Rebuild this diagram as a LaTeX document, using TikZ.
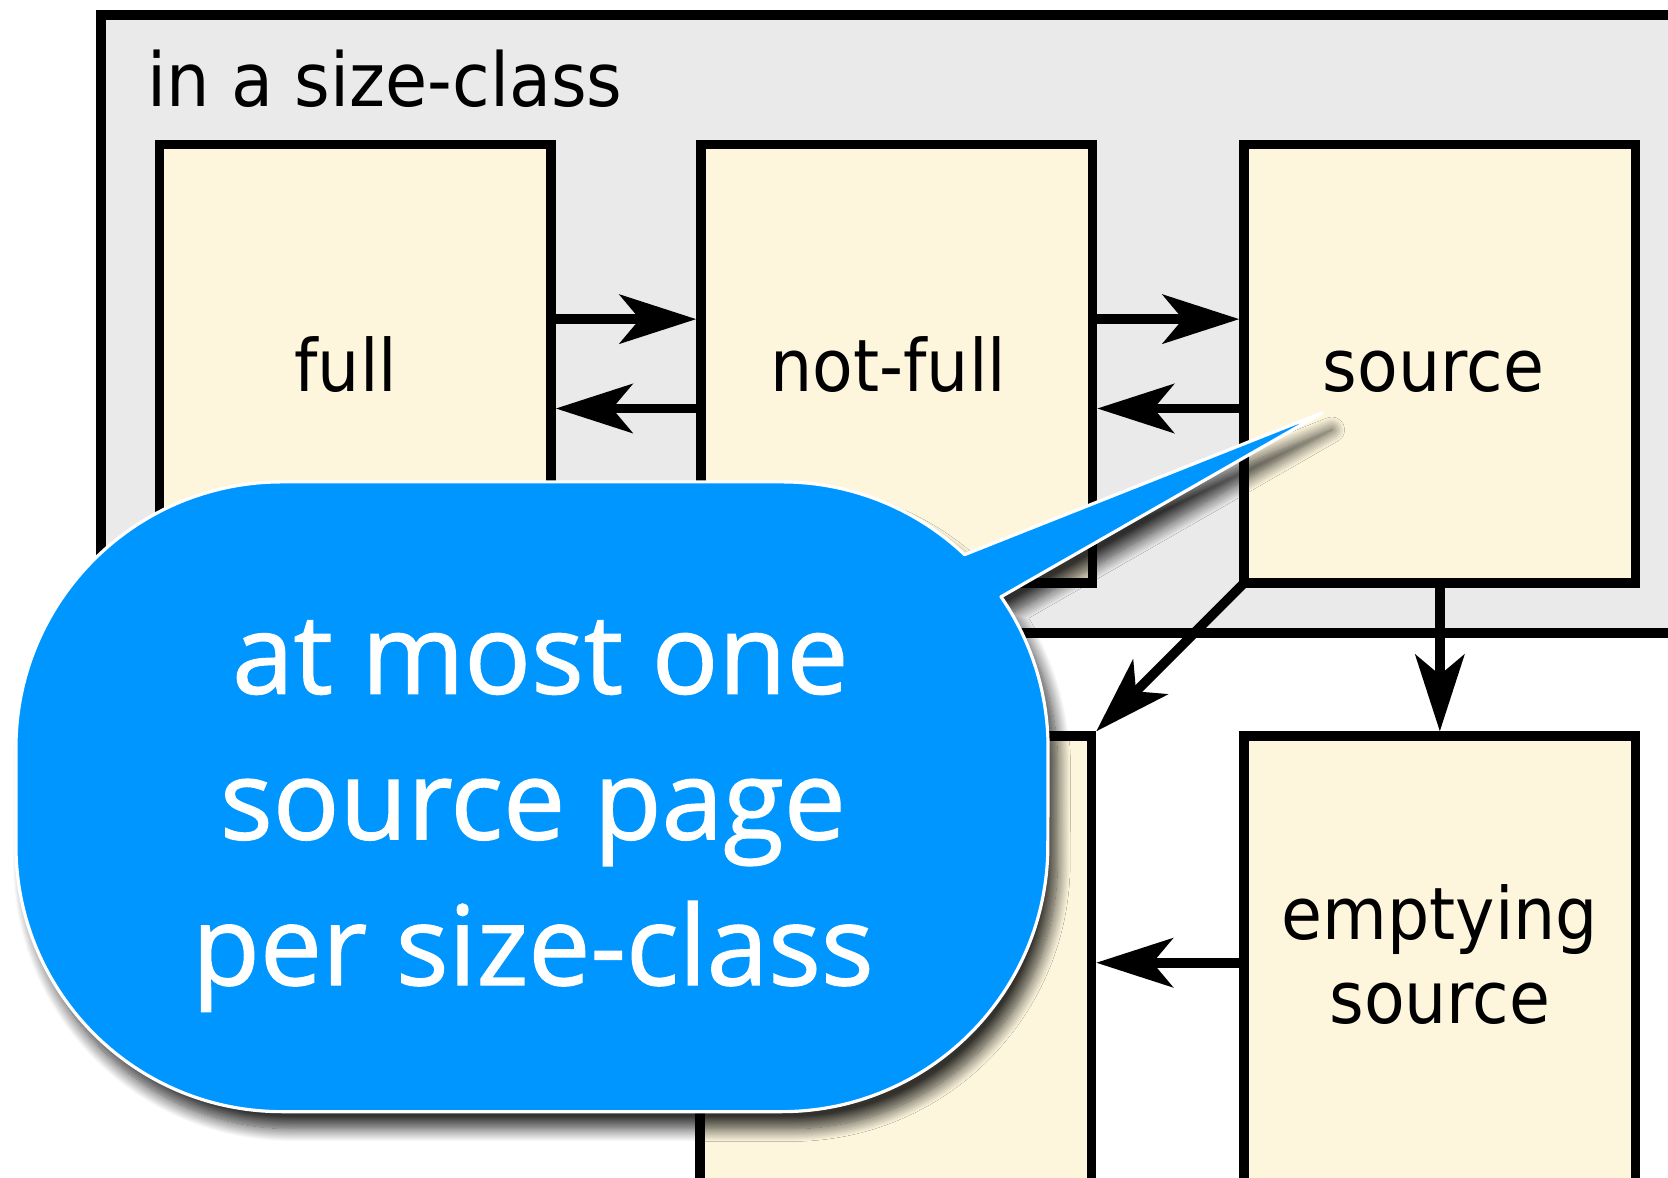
\documentclass[tikz,border=0pt]{standalone}
\usepackage{fontspec}
\newfontfamily\boxfont[FakeStretch=0.92]{DejaVu Sans}
\newfontfamily\callfont[FakeBold=1.2]{Open Sans}
\usetikzlibrary{arrows.meta,shadows.blur}

\definecolor{pagefill}{RGB}{253,246,221}
\definecolor{classfill}{RGB}{234,234,234}
\definecolor{callblue}{RGB}{0,150,255}

\begin{document}
\begin{tikzpicture}[x=1pt,y=-1pt,
  classbox/.style={draw=black, line width=9pt, fill=classfill, inner sep=0pt,
    minimum width=1525pt, minimum height=581pt},
  pagebox/.style={draw=black, line width=9pt, fill=pagefill, inner sep=0pt,
    minimum width=368pt, minimum height=412pt,
    font=\boxfont\fontsize{68}{79}\selectfont, text height=52pt, text depth=0pt},
  tallbox/.style={pagebox, minimum height=426pt},
  flow/.style={line width=9pt, -{Stealth[length=72pt,width=46pt,inset=19pt]}},
  callout/.style={fill=callblue, draw=white, line width=3pt, line join=round,
    blur shadow={shadow xshift=9pt, shadow yshift=-16pt, shadow blur radius=12pt,
      shadow blur steps=16, shadow opacity=80}},
  calltext/.style={anchor=base, inner sep=0pt, text=white,
    font=\callfont\fontsize{104}{137}\selectfont}
]
\useasboundingbox (0,0) rectangle (1568,1107);
\clip (0,0) rectangle (1568,1107);

% the size-class container
\node[classbox] (sizeclass) at (857.5,304.5) {};
\node[anchor=base west, inner sep=0pt, font=\boxfont\fontsize{70}{84}\selectfont]
  (title) at (138,100) {in a size-class};

% pages inside the size-class
\node[pagebox] (full)    at (334,342)    {\kern-18pt full};
\node[pagebox] (notfull) at (843,342)    {\kern-16pt not-full};
\node[pagebox] (source)  at (1353.5,342) {\kern-12pt source};

% pages below
\node[tallbox] (lower) at (842,905) {};
\node[tallbox, align=center, text height=114pt, text depth=0pt]
  (empty) at (1353.5,905) {emptying\\source};

% transitions
\draw[flow] ([yshift=42pt]full.east)    -- ([yshift=42pt]notfull.west);
\draw[flow] ([yshift=-42pt]notfull.west) -- ([yshift=-42pt]full.east);
\draw[flow] ([yshift=42pt]notfull.east) -- ([yshift=42pt]source.west);
\draw[flow] ([yshift=-42pt]source.west) -- ([yshift=-42pt]notfull.east);
\draw[flow] ([shift={(5pt,5pt)}]source.south west) -- (lower.north east);
\draw[flow] (source.south) -- (empty.north);
\draw[flow] (empty.west) -- (lower.east |- empty.west);

% speech bubble
\path[callout] (265,453) -- (735,453)
  arc[start angle=-90, end angle=-46.6, radius=250] -- (1243,388) -- (941,561)
  arc[start angle=-34.6, end angle=0, radius=250] -- (985,795)
  arc[start angle=0, end angle=90, radius=250] -- (265,1045)
  arc[start angle=90, end angle=180, radius=250] -- (15,703)
  arc[start angle=180, end angle=270, radius=250] -- cycle;

\node[calltext] (t1) at (508,652) {at most one};
\node[calltext] (t2) at (501,789) {source page};
\node[calltext] (t3) at (501,926) {per size-class};
\end{tikzpicture}
\end{document}
